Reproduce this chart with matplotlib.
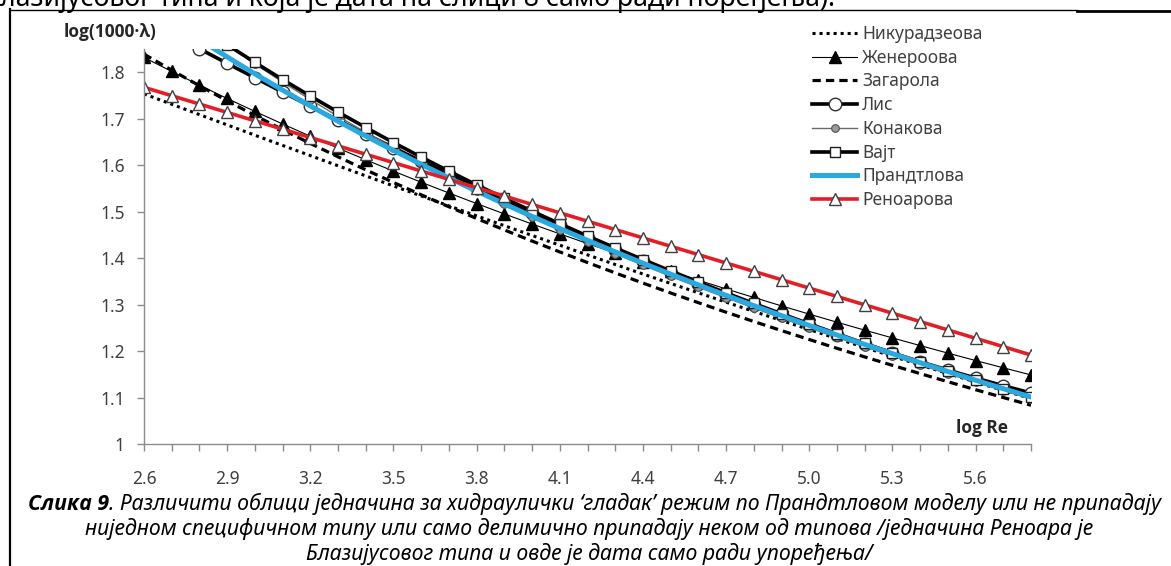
import matplotlib
matplotlib.use("Agg")
import matplotlib.pyplot as plt
from matplotlib.lines import Line2D

# ---------------- data ----------------
log_re = [2.6, 2.7, 2.8, 2.9, 3.0, 3.1, 3.2, 3.3, 3.4, 3.5, 3.6, 3.7, 3.8, 3.9, 4.0, 4.1,
          4.2, 4.3, 4.4, 4.5, 4.6, 4.7, 4.8, 4.9, 5.0, 5.1, 5.2, 5.3, 5.4, 5.5, 5.6, 5.7, 5.8]

nikuradze = [1.7534, 1.7311, 1.7088, 1.6867, 1.6645, 1.6425, 1.6206, 1.5987, 1.5770, 1.5553, 1.5338,
             1.5124, 1.4910, 1.4698, 1.4488, 1.4278, 1.4070, 1.3863, 1.3658, 1.3455, 1.3253, 1.3052,
             1.2853, 1.2656, 1.2462, 1.2269, 1.2077, 1.1888, 1.1701, 1.1517, 1.1334, 1.1154, 1.0977]
generaux = [1.8319, 1.8016, 1.7722, 1.7435, 1.7157, 1.6887, 1.6623, 1.6366, 1.6116, 1.5872, 1.5633,
            1.5401, 1.5174, 1.4951, 1.4734, 1.4522, 1.4314, 1.4111, 1.3911, 1.3716, 1.3525, 1.3337,
            1.3153, 1.2972, 1.2795, 1.2621, 1.2450, 1.2283, 1.2118, 1.1956, 1.1796, 1.1640, 1.1486]
zagarola = [1.8390, 1.8044, 1.7709, 1.7385, 1.7070, 1.6765, 1.6468, 1.6180, 1.5900, 1.5628, 1.5363,
            1.5105, 1.4853, 1.4607, 1.4367, 1.4133, 1.3905, 1.3682, 1.3463, 1.3250, 1.3041, 1.2836,
            1.2636, 1.2440, 1.2248, 1.2059, 1.1874, 1.1693, 1.1515, 1.1340, 1.1169, 1.1000, 1.0834]
lees = [1.9138, 1.8820, 1.8504, 1.8191, 1.7881, 1.7573, 1.7269, 1.6968, 1.6670, 1.6376, 1.6086,
        1.5801, 1.5519, 1.5242, 1.4970, 1.4703, 1.4441, 1.4184, 1.3933, 1.3688, 1.3449, 1.3216,
        1.2989, 1.2769, 1.2555, 1.2349, 1.2149, 1.1956, 1.1770, 1.1591, 1.1419, 1.1255, 1.1097]
konakov = [1.9951, 1.9473, 1.9020, 1.8589, 1.8179, 1.7787, 1.7412, 1.7052, 1.6707, 1.6375, 1.6055,
           1.5747, 1.5449, 1.5161, 1.4883, 1.4612, 1.4351, 1.4096, 1.3849, 1.3609, 1.3375, 1.3148,
           1.2926, 1.2710, 1.2499, 1.2293, 1.2092, 1.1895, 1.1703, 1.1514, 1.1330, 1.1150, 1.0973]
white = [1.9822, 1.9397, 1.8986, 1.8592, 1.8211, 1.7843, 1.7487, 1.7143, 1.6810, 1.6487, 1.6174,
         1.5871, 1.5576, 1.5290, 1.5011, 1.4740, 1.4476, 1.4219, 1.3968, 1.3724, 1.3485, 1.3252,
         1.3024, 1.2802, 1.2585, 1.2372, 1.2164, 1.1960, 1.1761, 1.1565, 1.1373, 1.1186, 1.1001]
prandtl = [1.9499, 1.9095, 1.8705, 1.8330, 1.7966, 1.7615, 1.7275, 1.6946, 1.6627, 1.6318, 1.6018,
           1.5726, 1.5442, 1.5166, 1.4898, 1.4637, 1.4382, 1.4134, 1.3891, 1.3655, 1.3424, 1.3198,
           1.2977, 1.2762, 1.2551, 1.2345, 1.2142, 1.1944, 1.1750, 1.1560, 1.1373, 1.1191, 1.1011]
renouard = [1.7675, 1.7495, 1.7315, 1.7135, 1.6955, 1.6775, 1.6595, 1.6415, 1.6235, 1.6055, 1.5875,
            1.5695, 1.5515, 1.5335, 1.5155, 1.4975, 1.4795, 1.4615, 1.4435, 1.4255, 1.4075, 1.3895,
            1.3715, 1.3535, 1.3355, 1.3175, 1.2995, 1.2815, 1.2635, 1.2455, 1.2275, 1.2095, 1.1915]

series_names = ["Никурадзеова", "Женероова", "Загарола", "Лис", "Конакова", "Вајт",
                "Прандтлова", "Реноарова"]
y_ticks = [1.0, 1.1, 1.2, 1.3, 1.4, 1.5, 1.6, 1.7, 1.8]
y_tick_labels = ["1", "1.1", "1.2", "1.3", "1.4", "1.5", "1.6", "1.7", "1.8"]
x_label_every = 3
y_title = "log(1000·λ)"
x_title = "log Re"
caption_bold = "Слика 9"
caption_line1 = ". Различити облици једначина за хидраулички ‘гладак’ режим по Прандтловом моделу или не припадају"
caption_line2 = "ниједном специфичном типу или само делимично припадају неком од типова /једначина Реноара је"
caption_line3 = "Блазијусовог типа и овде је дата само ради упоређења/"
top_text = "лазијусовог типа и која је дата на слици 8 само ради поређења)."

# ---------------- figure ----------------
W, H = 1171, 566
plt.rcParams["font.family"] = ["Noto Sans", "DejaVu Sans"]
BOLD_FAMILY = ["Open Sans", "Liberation Sans", "DejaVu Sans"]
fig = plt.figure(figsize=(W / 100, H / 100), dpi=100)
fig.patch.set_facecolor("white")


def fx(x):
    return x / W


def fy(y):
    return 1 - y / H


ax = fig.add_axes([fx(144), fy(444), (1031 - 144) / W, (444 - 49) / H])

h = []
h += ax.plot(log_re, nikuradze, color="black", lw=2.2, linestyle=(0, (1, 1.3)),
             label=series_names[0])
h += ax.plot(log_re, generaux, color="black", lw=0.8, marker="^", ms=8,
             mfc="black", mec="black", label=series_names[1])
h += ax.plot(log_re, zagarola, color="black", lw=2.3, linestyle=(0, (2.6, 1.6)),
             label=series_names[2])
h += ax.plot(log_re, lees, color="black", lw=2.6, marker="o", ms=9,
             mfc="white", mec="#303030", mew=1.0, label=series_names[3])
h += ax.plot(log_re, konakov, color="#6a6a6a", lw=1.0, marker="o", ms=5.5,
             mfc="#9a9a9a", mec="#505050", mew=0.8, label=series_names[4])
h += ax.plot(log_re, white, color="black", lw=2.6, marker="s", ms=7.5,
             mfc="white", mec="#202020", mew=1.0, label=series_names[5])
h += ax.plot(log_re, prandtl, color="#29A9E0", lw=3.6, label=series_names[6])
h += ax.plot(log_re, renouard, color="#E41E26", lw=2.6, marker="^", ms=9,
             mfc="white", mec="#404040", mew=1.0, label=series_names[7])

ax.set_xlim(log_re[0], log_re[-1])
ax.set_ylim(1.0, 1.85)
ax.set_xticks(log_re)
ax.set_xticklabels([f"{v:.1f}" if i % x_label_every == 0 else "" for i, v in enumerate(log_re)])
ax.set_yticks(y_ticks)
ax.set_yticklabels(y_tick_labels)
ax.tick_params(axis="both", direction="out", length=5, width=1, color="#8c8c8c",
               labelcolor="#404040", labelsize=12.5)
ax.tick_params(axis="x", pad=14)
ax.tick_params(axis="y", pad=9)
for s in ["top", "right"]:
    ax.spines[s].set_visible(False)
for s in ["left", "bottom"]:
    ax.spines[s].set_color("#8c8c8c")
    ax.spines[s].set_linewidth(1.0)

leg = fig.legend(handles=h, labels=series_names, loc="upper left",
                 bbox_to_anchor=(fx(812), fy(25)), frameon=False, fontsize=12.5,
                 handlelength=2.6, handletextpad=0.3, labelspacing=0.33,
                 borderpad=0, borderaxespad=0, labelcolor="#404040")

fig.text(fx(110), fy(32), y_title, fontsize=12.5, fontweight="bold", family=BOLD_FAMILY,
         ha="center", va="center", color="#262626")
fig.text(fx(982), fy(428), x_title, fontsize=12.5, fontweight="bold", family=BOLD_FAMILY,
         ha="center", va="center", color="#262626")

# ---------------- caption ----------------
r = fig.canvas.get_renderer()
cap_fs = 14.0
tb = fig.text(fx(28), fy(510), caption_bold, fontsize=cap_fs, fontweight="bold",
              fontstyle="italic", family=BOLD_FAMILY, ha="left", va="baseline",
              color="black")
tr = fig.text(0, fy(510), caption_line1, fontsize=cap_fs, fontstyle="italic",
              ha="left", va="baseline", color="black")
wb = tb.get_window_extent(r).width
wr = tr.get_window_extent(r).width
cap_fs = cap_fs * 1135.0 / (wb + wr)
tb.set_fontsize(cap_fs)
tr.set_fontsize(cap_fs)
wb = tb.get_window_extent(r).width
tr.set_position((fx(28 + wb), fy(510)))
fig.text(fx(589), fy(535), caption_line2, fontsize=cap_fs, fontstyle="italic",
         ha="center", va="baseline", color="black")
fig.text(fx(589), fy(560), caption_line3, fontsize=cap_fs, fontstyle="italic",
         ha="center", va="baseline", color="black")

tt = fig.text(0, fy(6), top_text, fontsize=14, ha="left", va="baseline", color="black")
wt = tt.get_window_extent(r).width
tt.set_fontsize(14 * 835.0 / wt)

# ---------------- frame lines ----------------
fig.add_artist(Line2D([fx(10), fx(10)], [fy(9), fy(566)], color="black", lw=1.6,
                      transform=fig.transFigure))
fig.add_artist(Line2D([fx(10), fx(1077)], [fy(10), fy(10)], color="black", lw=1.0,
                      transform=fig.transFigure))
fig.add_artist(Line2D([fx(1077), fx(1171)], [fy(10.5), fy(10.5)], color="black", lw=2.0,
                      transform=fig.transFigure))

fig.savefig("out.png", dpi=100, facecolor="white")
